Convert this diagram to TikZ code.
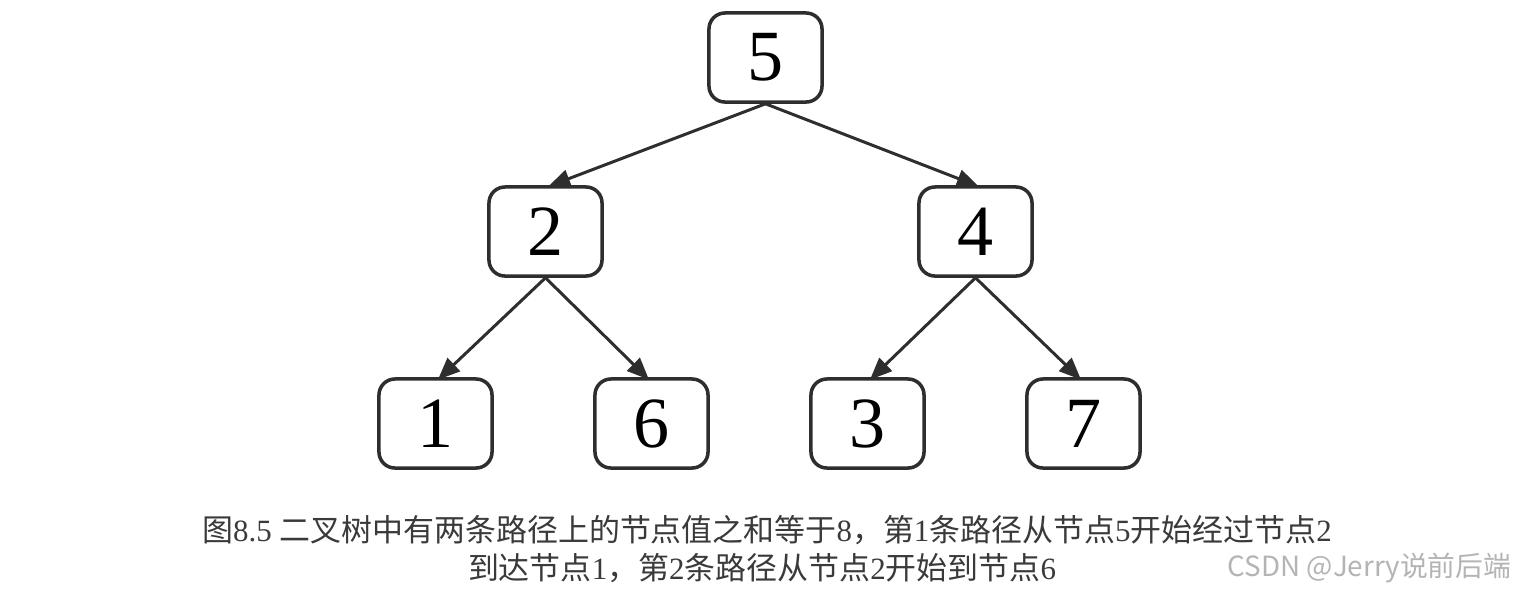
\documentclass[tikz,border=0pt]{standalone}
\usepackage{fontspec}
\setmainfont{Liberation Serif}
\newfontfamily\cjk{Noto Sans CJK SC}
\usetikzlibrary{arrows.meta}
\definecolor{boxc}{HTML}{2E2E2E}
\definecolor{capc}{HTML}{3A3A3A}
\definecolor{wmc}{HTML}{B4B4B4}
\begin{document}
\begin{tikzpicture}[x=0.01cm,y=-0.01cm,
  tnode/.style={draw=boxc, line width=1pt, rounded corners=0.16cm, minimum width=1.13cm, minimum height=0.89cm, inner sep=0pt, font=\fontsize{20.5pt}{20.5pt}\selectfont, text=black},
  arrowedge/.style={draw=boxc, line width=0.85pt, -{Triangle[length=0.22cm,width=0.18cm]}, shorten >=-1pt},
  captext/.style={text=capc, font=\fontsize{8.8pt}{10pt}\selectfont, inner sep=0pt}]
\useasboundingbox (0,0) rectangle (1517,593);
\node[tnode] (n5) at (765.5,57.5) {5};
\node[tnode] (n2) at (545.5,231.5) {2};
\node[tnode] (n4) at (975.5,231.5) {4};
\node[tnode] (n1) at (435.5,423.5) {1};
\node[tnode] (n6) at (651.5,423.5) {6};
\node[tnode] (n3) at (867.5,423.5) {3};
\node[tnode] (n7) at (1083.5,423.5) {7};
\draw[arrowedge] (n5.south) -- ([xshift=0.06cm]n2.north);
\draw[arrowedge] (n5.south) -- (n4.north);
\draw[arrowedge] (n2.south) -- ([xshift=0.05cm]n1.north);
\draw[arrowedge] (n2.south) -- ([xshift=-0.05cm]n6.north);
\draw[arrowedge] (n4.south) -- ([xshift=0.05cm]n3.north);
\draw[arrowedge] (n4.south) -- ([xshift=-0.05cm]n7.north);
\node[captext] (c1) at (767,530) {{\cjk 图}8.5 {\cjk 二叉树中有两条路径上的节点值之和等于}8{\cjk ，第}1{\cjk 条路径从节点}5{\cjk 开始经过节点}2};
\node[captext] (c2) at (762,568) {{\cjk 到达节点}1{\cjk ，第}2{\cjk 条路径从节点}2{\cjk 开始到节点}6};
\node[text=wmc, font=\cjk\fontsize{7.9pt}{9pt}\selectfont, inner sep=0pt, anchor=east] (wm) at (1512,568) {CSDN @Jerry说前后端};
\end{tikzpicture}
\end{document}
